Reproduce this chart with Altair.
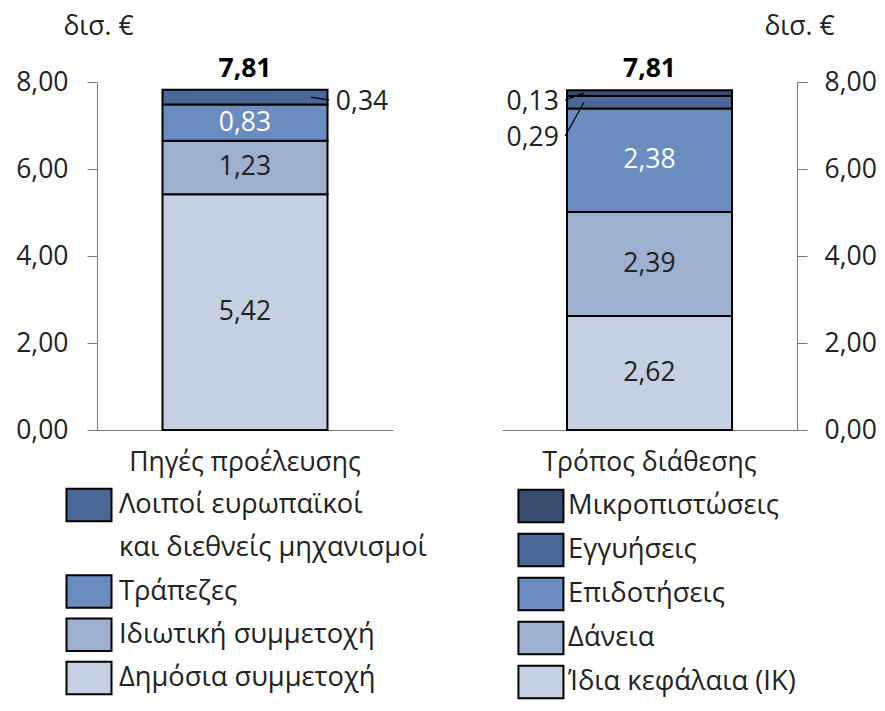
import altair as alt
import pandas as pd

# ---------------- data ----------------
unit_label = "δισ. €"
y_ticks = [0, 2, 4, 6, 8]

left_title = "Πηγές προέλευσης"
left_cats = ["Δημόσια συμμετοχή", "Ιδιωτική συμμετοχή", "Τράπεζες",
             "Λοιποί ευρωπαϊκοί και διεθνείς μηχανισμοί"]
left_vals = [5.42, 1.23, 0.83, 0.34]
left_total = 7.81

right_title = "Τρόπος διάθεσης"
right_cats = ["Ίδια κεφάλαια (ΙΚ)", "Δάνεια", "Επιδοτήσεις", "Εγγυήσεις", "Μικροπιστώσεις"]
right_vals = [2.62, 2.39, 2.38, 0.29, 0.13]
right_total = 7.81

legend_wrap = {
    "Λοιποί ευρωπαϊκοί και διεθνείς μηχανισμοί": ["Λοιποί ευρωπαϊκοί", "και διεθνείς μηχανισμοί"]
}

# ---------------- style ----------------
FONT = "Open Sans"
FS = 26.5
LFS = 27.3
TXT = "#222222"
AXC = "#7a7a7a"
PLOT_H = 348
shade = ["#C5D0E3", "#9DB0CF", "#6B8CBE", "#4A6897", "#374C6F"]
color_scale = alt.Scale(domain=left_cats + right_cats, range=shade[:4] + shade[:5])
white_text = ["Τράπεζες", "Επιδοτήσεις"]
RECT = "M-1,-0.72L1,-0.72L1,0.72L-1,0.72Z"
NUM = "replace(format({}, '.2f'), '.', ',')"


def panel(title, cats, vals, total, orient, width, title_x, lab_pad, nudges,
          lab_align, lab_pos, line_a, line_b, leg_range, sw_pos, sw_off, tx_pos):
    n = len(cats)
    df = pd.DataFrame({"panel": [title] * n, "cat": cats, "val": vals,
                       "idx": list(range(n))})
    tot_df = pd.DataFrame({"panel": [title], "total": [total]})

    rows = []
    for cat in reversed(cats):
        for j, line in enumerate(legend_wrap.get(cat, [cat])):
            rows.append({"panel": title, "row": len(rows), "line": line,
                         "cat": cat if j == 0 else None})
    leg_df = pd.DataFrame(rows)

    yscale = alt.Scale(domain=[0, 8], nice=False)
    yaxis = alt.Axis(values=y_ticks, labelExpr=NUM.format("datum.value"), orient=orient,
                     grid=False, domainColor=AXC, tickColor=AXC, tickSize=10,
                     labelPadding=lab_pad, labelFontSize=FS, labelFont=FONT, labelColor=TXT,
                     title=unit_label, titleAngle=0, titleX=title_x, titleY=-56,
                     titleAlign="center", titleBaseline="middle", titleFont=FONT,
                     titleFontSize=FS, titleFontWeight="normal", titleColor=TXT)
    xaxis = alt.Axis(title=None, ticks=False, domainColor=AXC, labelFontSize=FS,
                     labelFont=FONT, labelColor=TXT, labelPadding=19, labelAngle=0,
                     labelBaseline="top", labelLimit=500)
    xscale = alt.Scale(paddingInner=0, paddingOuter=0)

    def X(bp=None):
        if bp is None:
            return alt.X("panel:N", scale=xscale, axis=xaxis)
        return alt.X("panel:N", bandPosition=bp, scale=xscale, axis=xaxis)

    def Y(field):
        return alt.Y(field, scale=yscale, axis=yaxis)

    bars = alt.Chart(df).mark_bar(size=165, stroke="black", strokeWidth=2).encode(
        x=X(),
        y=alt.Y("val:Q", stack="zero", scale=yscale, axis=yaxis),
        color=alt.Color("cat:N", scale=color_scale, legend=None),
        order=alt.Order("idx:Q", sort="ascending"),
    )

    nudge_expr = "0"
    for c, v in nudges.items():
        nudge_expr = f"(datum.cat === '{c}' ? {v} : {nudge_expr})"

    calc = alt.Chart(df).transform_window(
        cum="sum(val)", sort=[alt.SortField("idx", order="ascending")], frame=[None, 0]
    ).transform_calculate(
        mid="datum.cum - datum.val / 2",
        lab=NUM.format("datum.val"),
    ).transform_calculate(
        lab_y=f"datum.mid - {nudge_expr}"
    )

    inner = calc.transform_filter("datum.val >= 0.5").mark_text(
        font=FONT, fontSize=FS, baseline="middle"
    ).encode(
        x=X(), y=Y("mid:Q"), text="lab:N",
        color=alt.condition(alt.FieldOneOfPredicate(field="cat", oneOf=white_text),
                            alt.value("white"), alt.value(TXT)),
    )

    small = calc.transform_filter("datum.val < 0.5")
    leader = small.mark_rule(color="black", strokeWidth=1.3).encode(
        x=X(line_a), x2=alt.X2("panel:N", bandPosition=line_b),
        y=Y("mid:Q"), y2=alt.Y2("lab_y:Q"),
    )
    outside = small.mark_text(font=FONT, fontSize=FS, baseline="middle",
                              align=lab_align, dy=2, color=TXT).encode(
        x=X(lab_pos), y=Y("lab_y:Q"), text="lab:N",
    )

    tot = alt.Chart(tot_df).transform_calculate(lab=NUM.format("datum.total")).mark_text(
        font=FONT, fontSize=FS, fontWeight="bold", baseline="alphabetic", dy=-13, color="black"
    ).encode(x=X(), y=Y("total:Q"), text="lab:N")

    leg_y = alt.Y("row:O", axis=None,
                  scale=alt.Scale(type="point", domain=list(range(len(rows))),
                                  range=leg_range, padding=0))
    swatch = alt.Chart(leg_df).transform_filter("isValid(datum.cat)").mark_point(
        shape=RECT, size=2025, filled=True, opacity=1, stroke="black", strokeWidth=2,
        xOffset=sw_off
    ).encode(
        x=X(sw_pos), y=leg_y,
        color=alt.Color("cat:N", scale=color_scale, legend=None),
    )
    leg_text = alt.Chart(leg_df).mark_text(
        font=FONT, fontSize=LFS, align="left", baseline="middle", color=TXT
    ).encode(x=X(tx_pos), y=leg_y, text="line:N")

    main = alt.layer(bars, inner, leader, outside, tot)
    leg = alt.layer(swatch, leg_text)
    return alt.layer(main, leg).resolve_scale(y="independent").properties(
        width=width, height=PLOT_H
    )


left = panel(left_title, left_cats, left_vals, left_total, "left", 296, 1, 19,
             {"Λοιποί ευρωπαϊκοί και διεθνείς μηχανισμοί": 0.064},
             "left", 0.807, 0.723, 0.784, [423, 596], 0.0, -8, 0.074)
right = panel(right_title, right_cats, right_vals, right_total, "right", 295, 2, 17,
              {"Εγγυήσεις": 0.776, "Μικροπιστώσεις": 0.159},
              "right", 0.193, 0.278, 0.214, [424, 600], 0.132, 0, 0.224)

chart = alt.hconcat(left, right, spacing=109, bounds="flush").properties(
    padding={"left": 7, "top": 5, "right": 0, "bottom": 0}
).configure_view(stroke=None)

chart.save("out.html", embed_options={"renderer": "svg", "actions": False})
